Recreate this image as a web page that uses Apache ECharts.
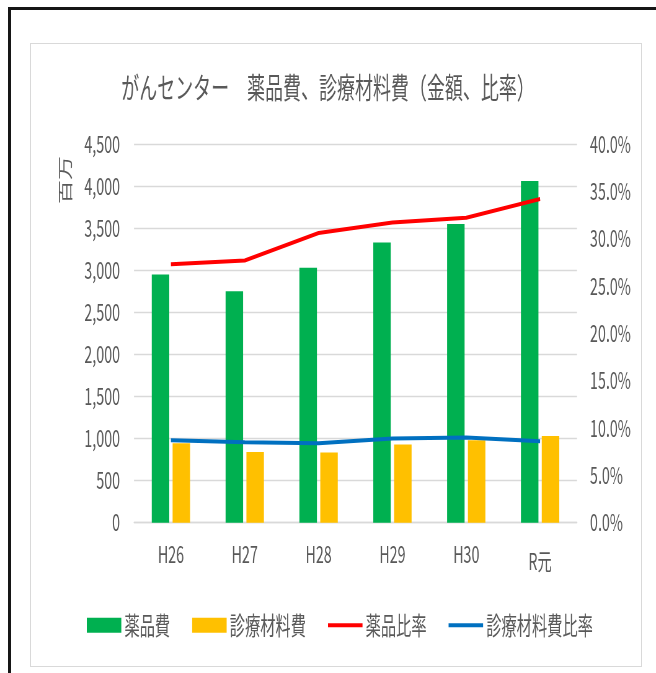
<!DOCTYPE html>
<html>
<head>
<meta charset="utf-8">
<script src="https://cdn.jsdelivr.net/npm/echarts@6/dist/echarts.min.js"></script>
<style>
  html, body { margin: 0; padding: 0; background: #ffffff; }
  body { width: 656px; height: 673px; position: relative; overflow: hidden; }
  #frame-outer { position: absolute; left: 8px; top: 7px; width: 700px; height: 700px;
                 border-left: 3px solid #161616; border-top: 3px solid #161616; box-sizing: border-box; }
  #frame-inner { position: absolute; left: 30px; top: 43px; width: 612px; height: 624px;
                 border: 1px solid #d9d9d9; box-sizing: border-box; }
  #chart { position: absolute; left: 0; top: 0; height: 673px; transform-origin: 0 0; }
</style>
</head>
<body>
<div id="frame-outer"></div>
<div id="frame-inner"></div>
<div id="chart"></div>
<script>
// 年度
const categories = ['H26', 'H27', 'H28', 'H29', 'H30', 'R元'];
// 金額（百万円）
const drugCost = [2950, 2750, 3030, 3330, 3550, 4060];
const materialCost = [945, 840, 835, 930, 980, 1030];
// 比率（%）
const drugRatio = [27.3, 27.7, 30.6, 31.7, 32.2, 34.2];
const materialRatio = [8.7, 8.5, 8.4, 8.9, 9.0, 8.6];
// 軸目盛
const amountTicks = { min: 0, max: 4500, interval: 500 };
const ratioTicks = { min: 0, max: 40, interval: 5 };

// The chart is laid out on a wider canvas and narrowed horizontally,
// giving the tall, condensed lettering of the original sheet.
const S = 0.62;
const hx = x => x / S;

const el = document.getElementById('chart');
el.style.width = hx(656) + 'px';
el.style.transform = 'scaleX(' + S + ')';

const grey = '#595959';
const gridGrey = '#d9d9d9';
const font = '"Noto Sans CJK JP", "Noto Sans", sans-serif';
// flat bar used as the legend key of the ratio lines
const lineKey = 'path://M0 0H56V4H0Z';

const chart = echarts.init(el, null, { renderer: 'canvas' });
chart.setOption({
  animation: false,
  backgroundColor: 'transparent',
  textStyle: { fontFamily: font },
  title: {
    text: 'がんセンター　薬品費、診療材料費（金額、比率）',
    left: 'center',
    top: 73,
    padding: 0,
    textStyle: { color: grey, fontSize: 29, fontWeight: 'normal', fontFamily: font }
  },
  grid: { left: hx(134), width: hx(443), top: 144, height: 378.7, containLabel: false },
  legend: {
    left: hx(86.8),
    top: 613,
    padding: 0,
    itemWidth: hx(34.5),
    itemHeight: 15,
    itemGap: hx(22),
    textStyle: { color: grey, fontSize: 24.6, fontFamily: font },
    data: [
      { name: '薬品費', icon: 'rect' },
      { name: '診療材料費', icon: 'rect' },
      { name: '薬品比率', icon: lineKey },
      { name: '診療材料費比率', icon: lineKey }
    ]
  },
  xAxis: {
    type: 'category',
    data: categories,
    axisTick: { show: false },
    axisLine: { lineStyle: { color: gridGrey, width: 1.3 } },
    axisLabel: {
      interval: 0,
      color: grey, fontSize: 23, margin: 20, fontFamily: font,
      formatter: v => (v === 'R元' ? '{low|' + v + '}' : v),
      rich: { low: { color: grey, fontSize: 23, fontFamily: font, padding: [7, 0, 0, 0] } }
    }
  },
  yAxis: [
    {
      type: 'value',
      min: amountTicks.min, max: amountTicks.max, interval: amountTicks.interval,
      axisLine: { show: false },
      axisTick: { show: false },
      splitLine: { lineStyle: { color: gridGrey, width: 1.3 } },
      axisLabel: {
        color: grey, fontSize: 23, margin: hx(14), fontFamily: font,
        formatter: v => v.toLocaleString('en-US')
      }
    },
    {
      type: 'value',
      min: ratioTicks.min, max: ratioTicks.max, interval: ratioTicks.interval,
      axisLine: { show: false },
      axisTick: { show: false },
      splitLine: { show: false },
      axisLabel: {
        color: grey, fontSize: 23, margin: hx(13), fontFamily: font,
        formatter: v => v.toFixed(1) + '%'
      }
    }
  ],
  graphic: [
    {
      type: 'text',
      x: hx(65),
      y: 180,
      rotation: Math.PI / 2,
      style: {
        text: '百万',
        fill: grey,
        fontSize: 24,
        fontFamily: font,
        align: 'center',
        verticalAlign: 'middle'
      }
    }
  ],
  series: [
    {
      name: '薬品費', type: 'bar', data: drugCost,
      barWidth: hx(17.5), barGap: '19%',
      itemStyle: { color: '#00B050' }
    },
    {
      name: '診療材料費', type: 'bar', data: materialCost,
      barWidth: hx(17.5), barGap: '19%',
      itemStyle: { color: '#FFC000' }
    },
    {
      name: '薬品比率', type: 'line', yAxisIndex: 1, data: drugRatio,
      symbol: 'none', lineStyle: { color: '#FF0000', width: 4 }, itemStyle: { color: '#FF0000' }
    },
    {
      name: '診療材料費比率', type: 'line', yAxisIndex: 1, data: materialRatio,
      symbol: 'none', lineStyle: { color: '#0070C0', width: 4 }, itemStyle: { color: '#0070C0' }
    }
  ]
});
</script>
</body>
</html>
